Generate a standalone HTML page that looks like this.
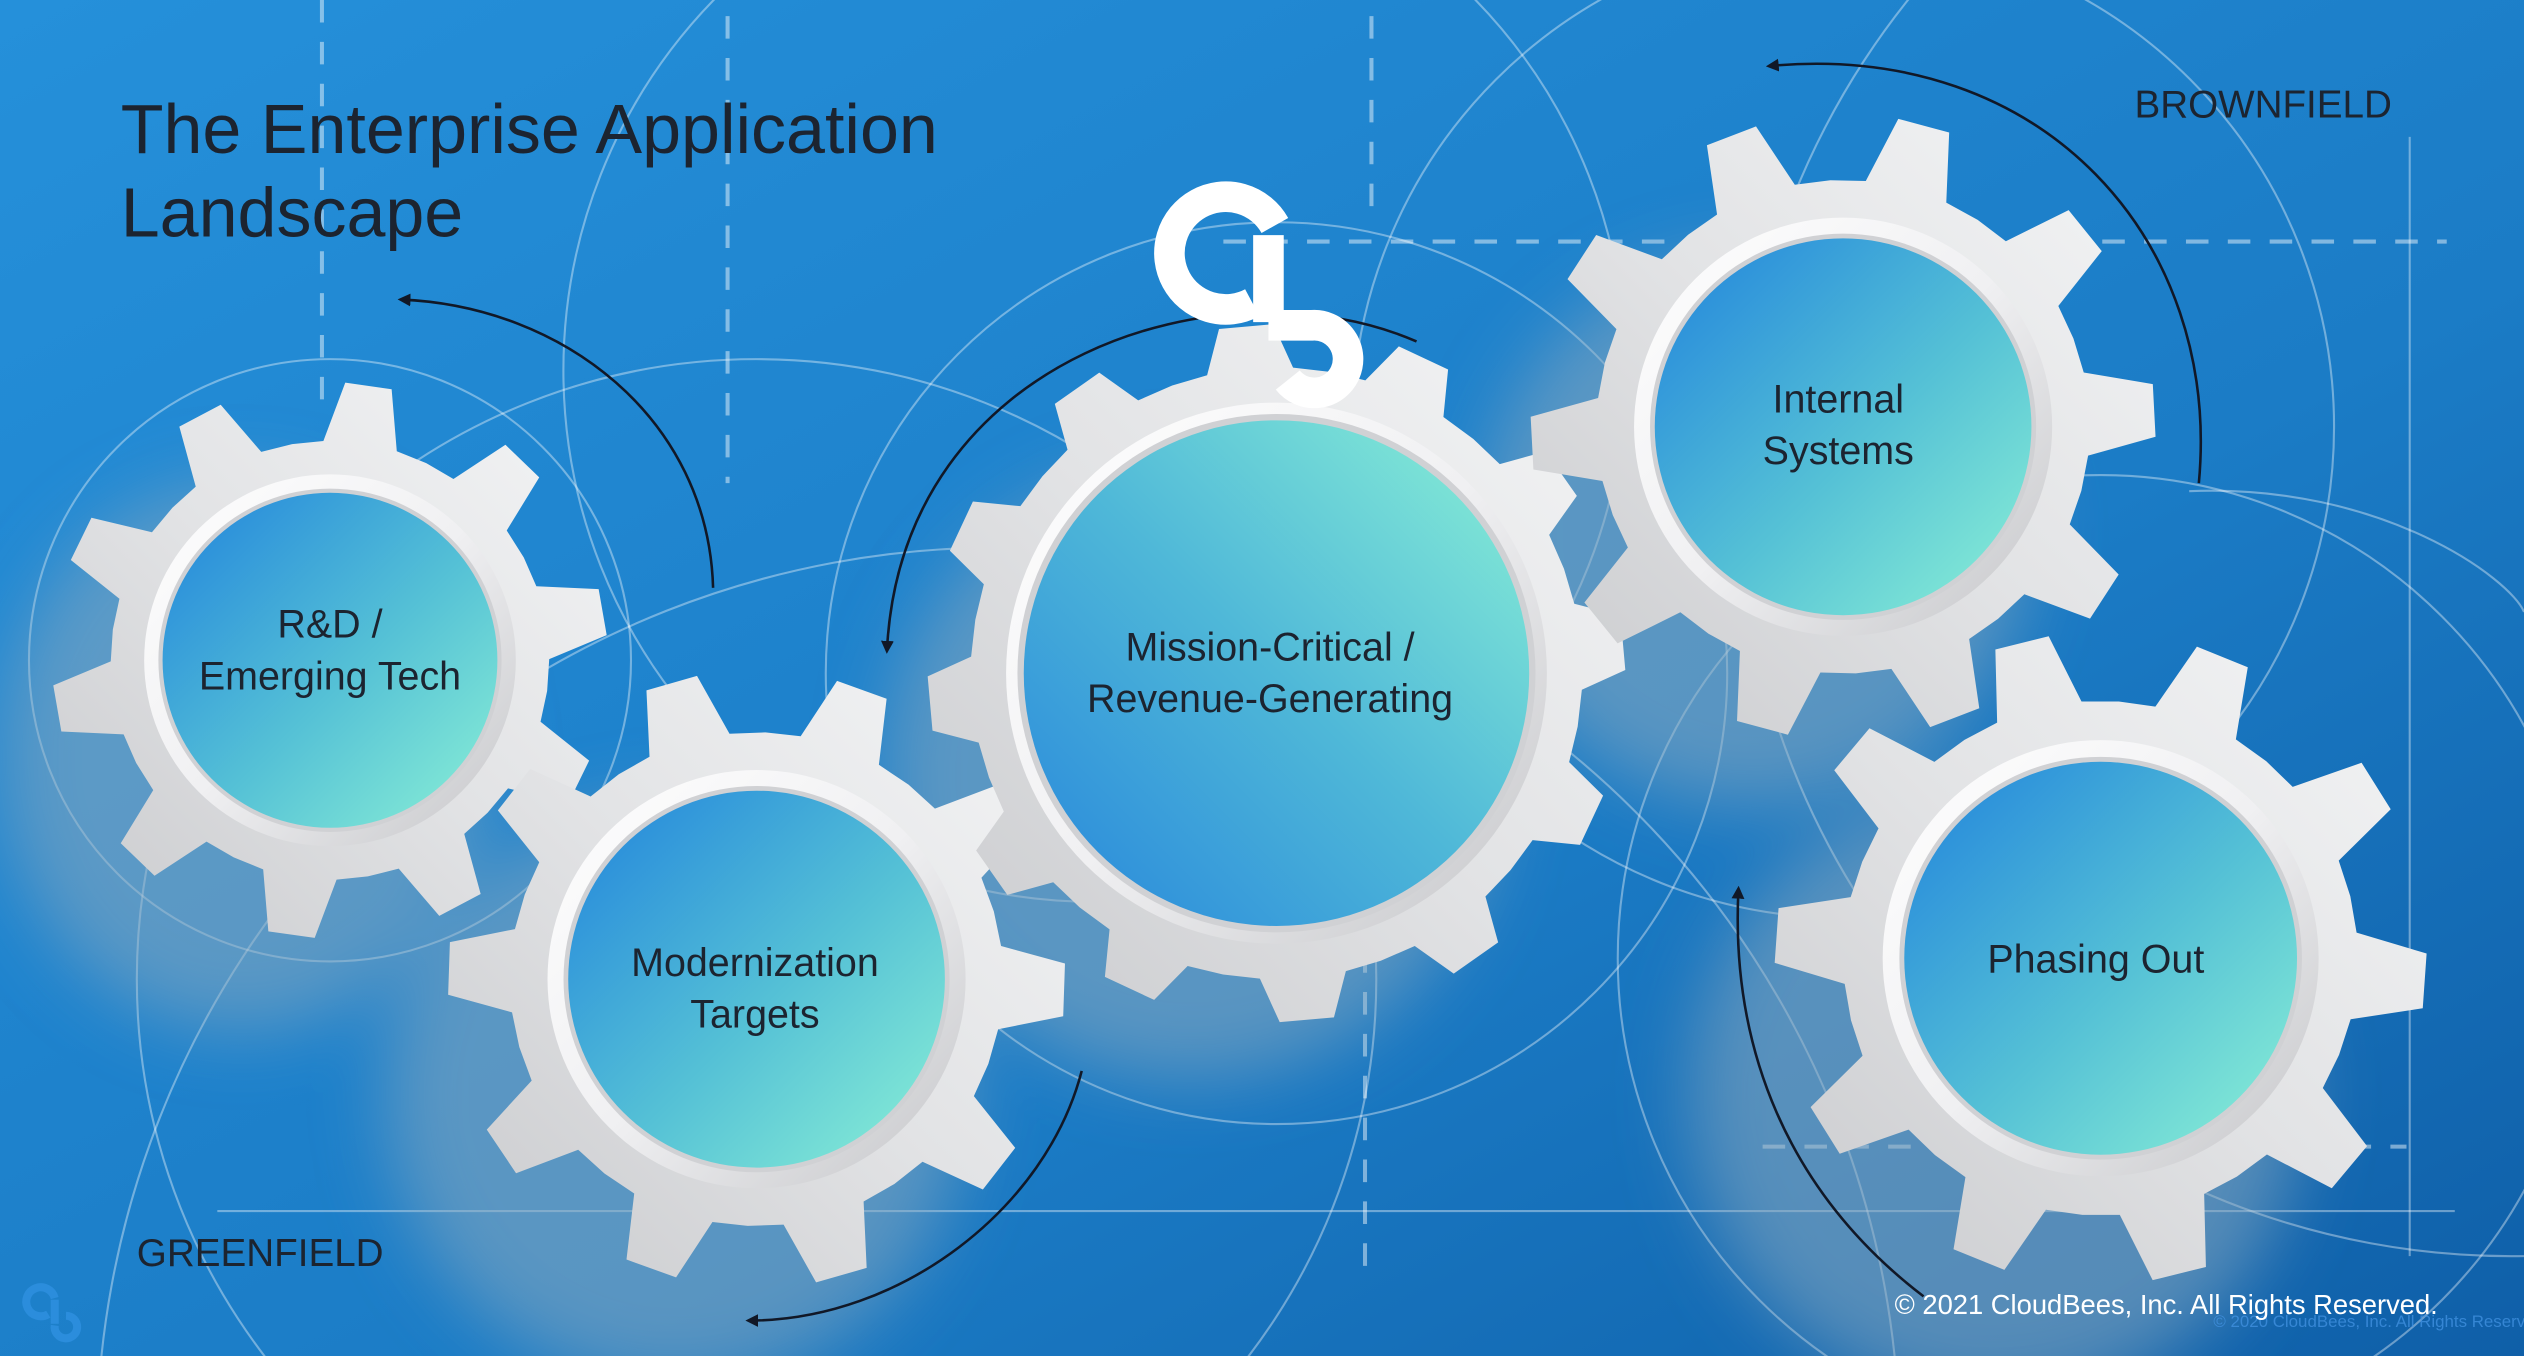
<!DOCTYPE html>
<html><head><meta charset="utf-8"><style>
html,body{margin:0;padding:0;width:2524px;height:1356px;overflow:hidden;background:#1a78c8}
svg{display:block;position:absolute;left:0;top:0}
text{font-family:"Liberation Sans",sans-serif}
</style></head><body>
<svg id="s" width="2524" height="1356" viewBox="0 0 1568 842" preserveAspectRatio="none" xmlns="http://www.w3.org/2000/svg">
<defs>
<linearGradient id="bg" x1="0" y1="0" x2="1" y2="1">
<stop offset="0" stop-color="#2590da"/><stop offset="0.6" stop-color="#1b7cc6"/><stop offset="1" stop-color="#0f5fa8"/></linearGradient>
<linearGradient id="teal" x1="0" y1="0" x2="1" y2="1">
<stop offset="0.1" stop-color="#2a8edb"/><stop offset="0.55" stop-color="#55c1d6"/><stop offset="0.95" stop-color="#86ecd6"/></linearGradient>
<linearGradient id="tealM" x1="1" y1="0" x2="0" y2="1">
<stop offset="0.05" stop-color="#86ecd6"/><stop offset="0.5" stop-color="#4fb8d8"/><stop offset="0.95" stop-color="#2a8adb"/></linearGradient>
<linearGradient id="gear" x1="1" y1="0" x2="0" y2="1">
<stop offset="0" stop-color="#f4f5f6"/><stop offset="0.5" stop-color="#e2e3e5"/><stop offset="1" stop-color="#c9cacd"/></linearGradient>
<linearGradient id="ring" x1="0" y1="0" x2="1" y2="1">
<stop offset="0" stop-color="#ffffff"/><stop offset="0.5" stop-color="#f0f0f2"/><stop offset="1" stop-color="#c4c5c8"/></linearGradient>
<filter id="blur" x="-50%" y="-50%" width="200%" height="200%"><feGaussianBlur stdDeviation="22"/></filter>
<marker id="ah" markerWidth="8" markerHeight="8" refX="6" refY="4" orient="auto" markerUnits="userSpaceOnUse"><path d="M0,0 L8,4 L0,8 Z" fill="#111827"/></marker>
</defs>
<rect width="1568" height="842" fill="url(#bg)"/>
<g id="deco" fill="none" stroke="rgba(255,255,255,0.38)" stroke-width="1.3">
<circle cx="205" cy="410" r="187"/>
<circle cx="470" cy="608" r="385"/>
<circle cx="793" cy="418" r="280"/>
<circle cx="1145" cy="265" r="305"/>
<circle cx="1305" cy="595" r="300"/>
<circle cx="680" cy="230" r="330"/>
<circle cx="1560" cy="300" r="480"/>
<circle cx="620" cy="900" r="560"/>
<path d="M1360 305 C1480 300 1560 360 1568 380"/>
<line x1="135" y1="752" x2="1525" y2="752"/>
<line x1="1497" y1="85" x2="1497" y2="780"/>
</g>
<g fill="none" stroke="rgba(255,255,255,0.45)" stroke-width="2.5" stroke-dasharray="14 12">
<line x1="200" y1="0" x2="200" y2="250"/>
<line x1="452" y1="10" x2="452" y2="300"/>
<line x1="852" y1="10" x2="852" y2="140"/>
<line x1="760" y1="150" x2="1520" y2="150"/>
<line x1="848" y1="590" x2="848" y2="790"/>
<line x1="1095" y1="712" x2="1495" y2="712"/>
</g>
<g id="shadows" filter="url(#blur)" fill="rgba(140,170,190,0.55)">
<ellipse cx="150" cy="470" rx="150" ry="170"/>
<ellipse cx="420" cy="680" rx="180" ry="180"/>
<ellipse cx="740" cy="480" rx="190" ry="190"/>
<ellipse cx="1090" cy="330" rx="170" ry="170"/>
<ellipse cx="1240" cy="680" rx="190" ry="190"/>
</g>
<g id="gears"></g>
<g font-size="24.5" fill="#1c2430" text-anchor="middle">
<text x="205" y="396">R&amp;D /</text><text x="205" y="428">Emerging Tech</text>
<text x="469" y="606">Modernization</text><text x="469" y="638">Targets</text>
<text x="789" y="410">Mission-Critical /</text><text x="789" y="442">Revenue-Generating</text>
<text x="1142" y="256">Internal</text><text x="1142" y="288">Systems</text>
<text x="1302" y="604">Phasing Out</text>
</g>
<g fill="none" stroke="#111827" stroke-width="1.6" marker-end="url(#ah)">
<path d="M443 365 C440 260 350 190 249 186"/>
<path d="M880 212 C760 160 560 220 551 404"/>
<path d="M1366 300 C1380 150 1270 25 1099 41"/>
<path d="M672 665 C650 750 560 820 465 820"/>
<path d="M1195 805 C1110 740 1075 650 1080 552"/>
</g>
<g fill="none" stroke="#ffffff" stroke-width="19">
<path d="M778 188 A35 35 0 1 1 792 140"/>
<path d="M788 146 L788 200"/>
<path d="M788 202 L815 202 A21 21 0 1 1 800 236"/>
</g>
<text x="75" y="95" font-size="43.5" fill="#1c2430">The Enterprise Application</text>
<text x="75" y="147" font-size="43.5" fill="#1c2430">Landscape</text>
<text x="1326" y="73" font-size="24" fill="#1c2430">BROWNFIELD</text>
<text x="85" y="786" font-size="24" fill="#1c2430">GREENFIELD</text>
<text x="1375" y="824" font-size="10.5" fill="rgba(70,150,230,0.7)">© 2020 CloudBees, Inc. All Rights Reserved.</text>
<text x="1177" y="816" font-size="17" fill="#ffffff">© 2021 CloudBees, Inc. All Rights Reserved.</text>
<g fill="none" stroke="#2b8ddc" stroke-width="5">
<path d="M30 816 A9 9 0 1 1 34 806"/><path d="M34 807 L34 822"/><path d="M34 823 A7 7 0 1 0 41 817"/>
</g>
</svg>
<script>
var G=document.getElementById('gears'),NS='http://www.w3.org/2000/svg';
function el(t,a){var e=document.createElementNS(NS,t);for(var k in a)e.setAttribute(k,a[k]);G.appendChild(e);return e;}
function gear(cx,cy,r,n,rot,tg,kb,kt,kr){
 var rb=r*kb,rt=r*kt,pts=[],step=2*Math.PI/n,bw=step*0.27,tw=step*0.17;
 for(var i=0;i<n;i++){var a=rot*Math.PI/180+i*step;
  var A=[[a-step/2+0.001,rb],[a-bw,rb],[a-tw*rb/rt,rt],[a+tw*rb/rt,rt],[a+bw,rb]];
  A.forEach(function(p){pts.push((cx+p[1]*Math.cos(p[0])).toFixed(1)+','+(cy+p[1]*Math.sin(p[0])).toFixed(1));});}
 el('polygon',{points:pts.join(' '),fill:'url(#gear)'});
 el('circle',{cx:cx,cy:cy,r:r*kr,fill:'url(#ring)'});
 el('circle',{cx:cx,cy:cy,r:r*1.025,fill:'#d0d1d4'});
 el('circle',{cx:cx,cy:cy,r:r,fill:tg});
}
gear(205,410,104,10,-82,'url(#teal)',1.31,1.66,1.11);
gear(470,608,117,10,-70,'url(#teal)',1.31,1.64,1.11);
gear(793,418,157,12,-95,'url(#tealM)',1.21,1.38,1.07);
gear(1145,265,117,10,-75,'url(#teal)',1.31,1.66,1.11);
gear(1305,595,122,10,-68,'url(#teal)',1.31,1.66,1.11);
</script>
</body></html>
